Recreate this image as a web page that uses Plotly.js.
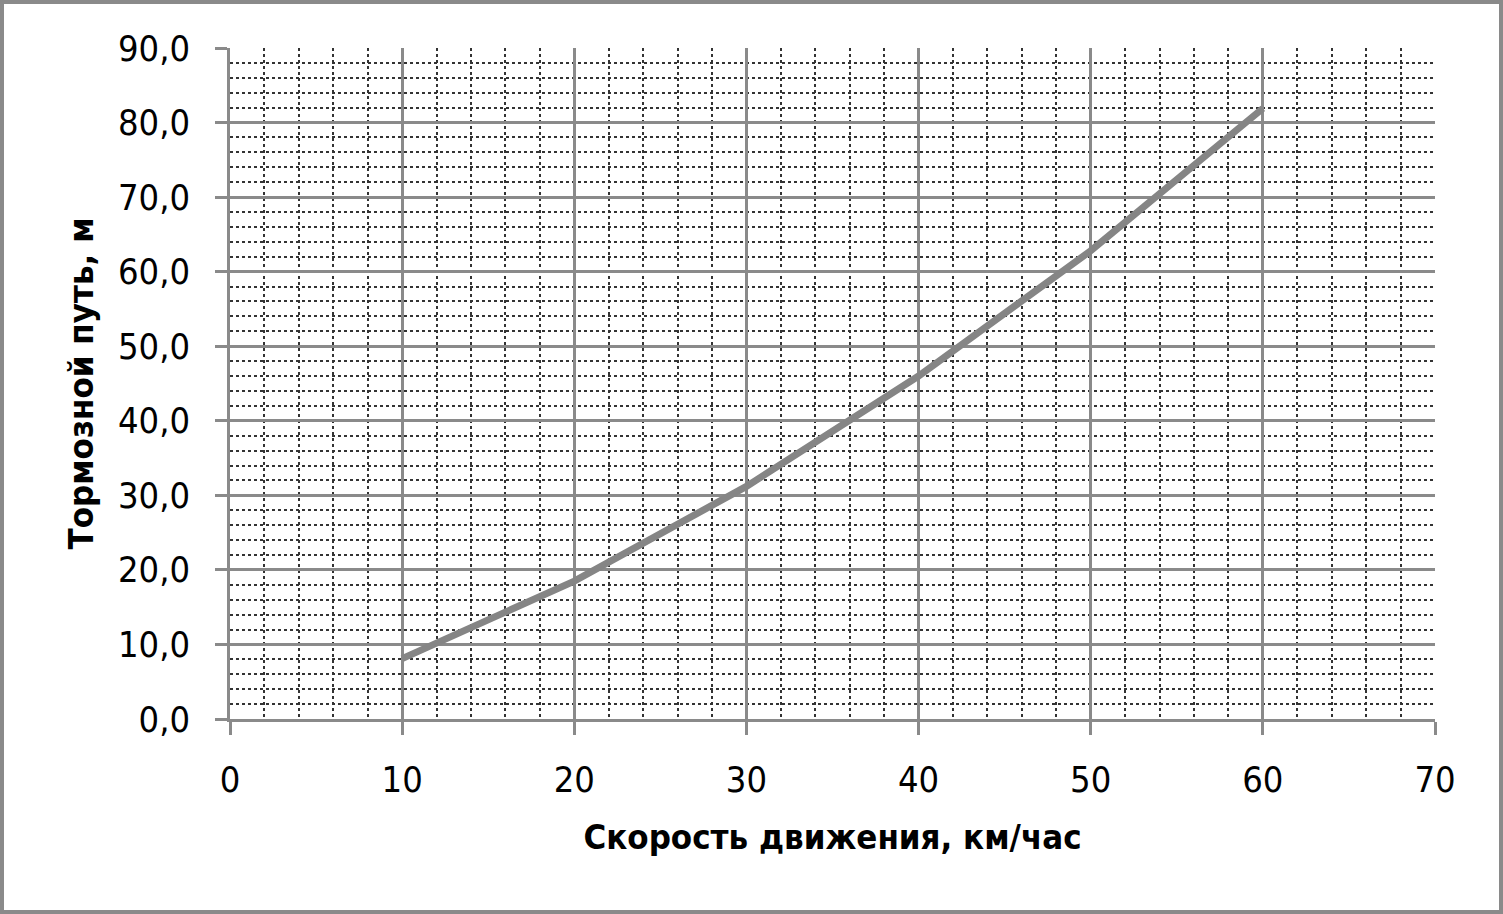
<!DOCTYPE html>
<html>
<head>
<meta charset="utf-8">
<script src="https://cdn.plot.ly/plotly-3.0.1.min.js"></script>
<style>
  html, body { margin: 0; padding: 0; background: #ffffff; }
  #frame { position: absolute; left: 0; top: 0; width: 1495px; height: 906px; border: 4px solid #8a8a8a; background: #fff; }
  #chart { width: 1495px; height: 906px; }
</style>
</head>
<body>
<div id="frame"><div id="chart"></div></div>
<script>
// Data
const speedKmh = [10, 20, 30, 40, 50, 60];
const brakingDistanceM = [8.1, 18.5, 31.2, 46.0, 62.8, 81.9];

const xTitle = 'Скорость движения, км/час';
const yTitle = 'Тормозной путь, м';

const tickFont = { family: 'DejaVu Sans Condensed, DejaVu Sans, sans-serif', size: 36, color: '#000' };
const titleFont = { family: 'DejaVu Sans Condensed, DejaVu Sans, sans-serif', size: 34.5, color: '#000', weight: 'bold' };

const trace = {
  x: speedKmh,
  y: brakingDistanceM,
  type: 'scatter',
  mode: 'lines',
  line: { color: '#858585', width: 7 },
  hoverinfo: 'x+y'
};

const layout = {
  width: 1495,
  height: 906,
  margin: { l: 226, r: 64, t: 44, b: 191 },
  paper_bgcolor: '#ffffff',
  plot_bgcolor: '#ffffff',
  separators: ', ',
  showlegend: false,
  xaxis: {
    range: [0, 70],
    dtick: 10,
    tick0: 0,
    showgrid: true,
    gridcolor: '#8a8a8a',
    gridwidth: 2.5,
    zeroline: false,
    showline: true,
    linecolor: '#8a8a8a',
    linewidth: 2.5,
    ticks: 'outside',
    ticklen: 13,
    tickwidth: 2.5,
    tickcolor: '#8a8a8a',
    ticklabelstandoff: 14,
    tickfont: tickFont,
    minor: { dtick: 2, showgrid: true, gridcolor: '#333', gridwidth: 1.5, griddash: 'dot', ticks: '' },
    title: { text: xTitle, font: titleFont, standoff: 26 }
  },
  yaxis: {
    range: [0, 90],
    dtick: 10,
    tick0: 0,
    tickformat: '.1f',
    showgrid: true,
    gridcolor: '#8a8a8a',
    gridwidth: 2.5,
    zeroline: false,
    showline: true,
    linecolor: '#8a8a8a',
    linewidth: 2.5,
    ticks: 'outside',
    ticklen: 12,
    tickwidth: 2.5,
    tickcolor: '#8a8a8a',
    ticklabelstandoff: 18,
    tickfont: tickFont,
    minor: { dtick: 2, showgrid: true, gridcolor: '#333', gridwidth: 1.5, griddash: 'dot', ticks: '' },
    title: { text: yTitle, font: titleFont, standoff: 14 }
  }
};

Plotly.newPlot('chart', [trace], layout, { displayModeBar: false });
</script>
</body>
</html>
